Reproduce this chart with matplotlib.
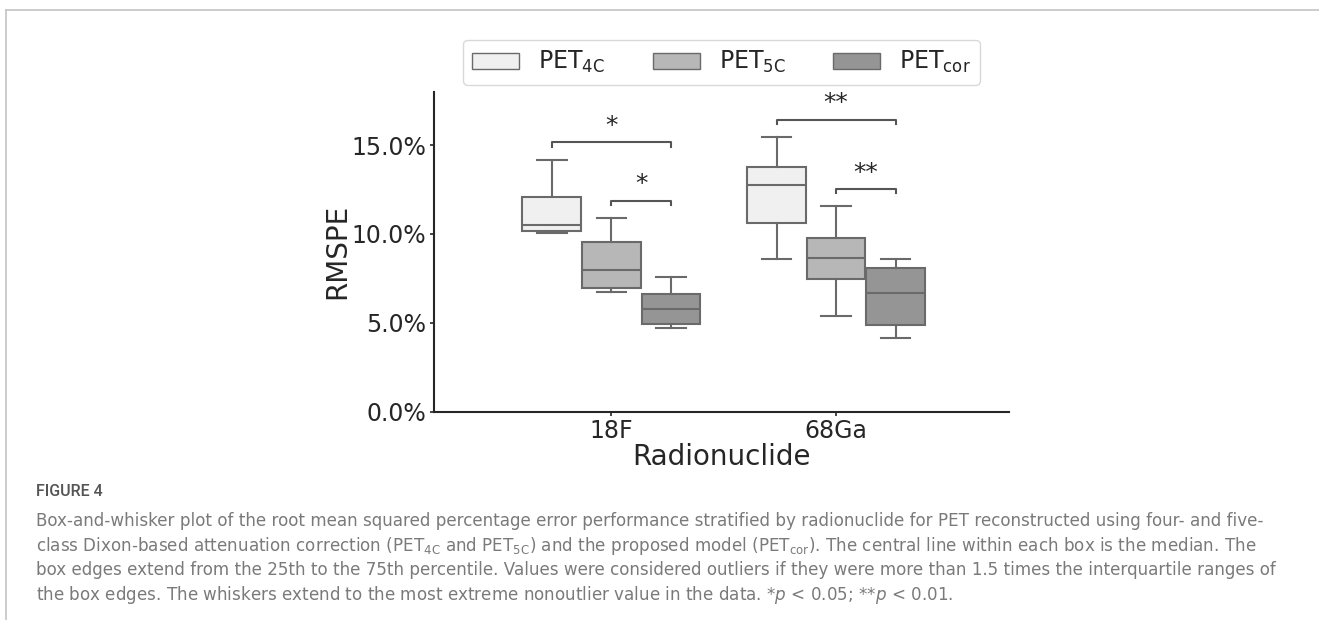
import matplotlib.pyplot as plt
from matplotlib.patches import Patch
from matplotlib.lines import Line2D
from matplotlib.ticker import PercentFormatter

# box statistics (RMSPE, %)
nuclides = ['18F', '68Ga']
methods = ['4C', '5C', 'cor']
whislo = {'4C': [10.05, 8.59], '5C': [6.76, 5.37], 'cor': [4.71, 4.15]}
q1 = {'4C': [10.15, 10.63], '5C': [6.97, 7.44], 'cor': [4.94, 4.85]}
med = {'4C': [10.50, 12.76], '5C': [7.97, 8.66], 'cor': [5.80, 6.67]}
q3 = {'4C': [12.06, 13.74], '5C': [9.55, 9.77], 'cor': [6.63, 8.08]}
whishi = {'4C': [14.17, 15.45], '5C': [10.88, 11.56], 'cor': [7.57, 8.57]}

# significance brackets: (nuclide index, method a, method b, height, label)
brackets = [(0, '4C', 'cor', 15.15, '*'),
            (0, '5C', 'cor', 11.86, '*'),
            (1, '4C', 'cor', 16.43, '**'),
            (1, '5C', 'cor', 12.53, '**')]

caption_lines = [
    'Box-and-whisker plot of the root mean squared percentage error performance stratified by radionuclide for PET reconstructed using four- and five-',
    r'class Dixon-based attenuation correction (PET$_\mathregular{4C}$ and PET$_\mathregular{5C}$) and the proposed model (PET$_\mathregular{cor}$). The central line within each box is the median. The',
    'box edges extend from the 25th to the 75th percentile. Values were considered outliers if they were more than 1.5 times the interquartile ranges of',
    r'the box edges. The whiskers extend to the most extreme nonoutlier value in the data. *$\mathit{p}$ < 0.05; **$\mathit{p}$ < 0.01.',
]

colors = {'4C': '#f0f0f0', '5C': '#b7b7b7', 'cor': '#959595'}
offsets = {'4C': -0.265, '5C': 0.0, 'cor': 0.265}
edge = '#6a6a6a'
dark = '#262626'

plt.rcParams['mathtext.fontset'] = 'custom'
plt.rcParams['mathtext.rm'] = 'DejaVu Sans'
plt.rcParams['mathtext.it'] = 'DejaVu Sans:italic'

fig = plt.figure(figsize=(13.19, 6.2), dpi=100)
ax = fig.add_axes([0.329, 0.336, 0.436, 0.516])

for m in methods:
    stats = []
    for i in range(len(nuclides)):
        stats.append({'whislo': whislo[m][i], 'q1': q1[m][i], 'med': med[m][i],
                      'q3': q3[m][i], 'whishi': whishi[m][i], 'fliers': []})
    pos = [i + offsets[m] for i in range(len(nuclides))]
    ax.bxp(stats, positions=pos, widths=0.262, patch_artist=True, showfliers=False,
           boxprops=dict(facecolor=colors[m], edgecolor=edge, linewidth=1.5),
           medianprops=dict(color=edge, linewidth=1.5),
           whiskerprops=dict(color=edge, linewidth=1.5),
           capprops=dict(color=edge, linewidth=1.5))

for i, a, b, h, lab in brackets:
    xa = i + offsets[a]
    xb = i + offsets[b]
    ax.plot([xa, xa, xb, xb], [h - 0.23, h, h, h - 0.23], color='#555555', lw=1.5)
    ax.text((xa + xb) / 2, h + 0.25, lab, ha='center', va='bottom', fontsize=18, color=dark)

ax.set_xlim(-0.79, 1.77)
ax.set_ylim(0, 18)
ax.set_yticks([0, 5, 10, 15])
ax.yaxis.set_major_formatter(PercentFormatter(xmax=100, decimals=1))
ax.set_xticks(range(len(nuclides)))
ax.set_xticklabels(nuclides)
ax.tick_params(labelsize=17, colors=dark, width=1.2, length=3, pad=2.5)
ax.set_ylabel('RMSPE', fontsize=20, color=dark, labelpad=0)
ax.set_xlabel('Radionuclide', fontsize=20, color=dark, labelpad=0)
ax.spines['top'].set_visible(False)
ax.spines['right'].set_visible(False)
for s in ['left', 'bottom']:
    ax.spines[s].set_color(dark)
    ax.spines[s].set_linewidth(1.5)

handles = [Patch(facecolor=colors[m], edgecolor=edge, linewidth=1.0) for m in methods]
labels = [r'PET$_\mathregular{%s}$' % m for m in methods]
leg = ax.legend(handles, labels, loc='lower center', bbox_to_anchor=(0.5, 1.0), ncol=3,
                fontsize=17, frameon=True, borderaxespad=0.3, handlelength=2.0)
for t in leg.get_texts():
    t.set_color(dark)
leg.get_frame().set_edgecolor('#d0d0d0')

# page frame
fig.add_artist(Line2D([6 / 1319, 1], [1 - 10 / 620, 1 - 10 / 620], color='#c4c4c4', lw=1.2))
fig.add_artist(Line2D([6 / 1319, 6 / 1319], [0, 1 - 10 / 620], color='#c4c4c4', lw=1.2))

fig.text(36 / 1319, 1 - 491 / 620, 'FIGURE 4', fontsize=11.5, color='#555555',
         family='Roboto', weight='medium', va='center', ha='left')
for k, line in enumerate(caption_lines):
    fig.text(36 / 1319, 1 - (521 + 24.7 * k) / 620, line, fontsize=12.1, color='#7a7a7a',
             family='DejaVu Sans', va='center', ha='left')

fig.savefig('out.png', dpi=100)
